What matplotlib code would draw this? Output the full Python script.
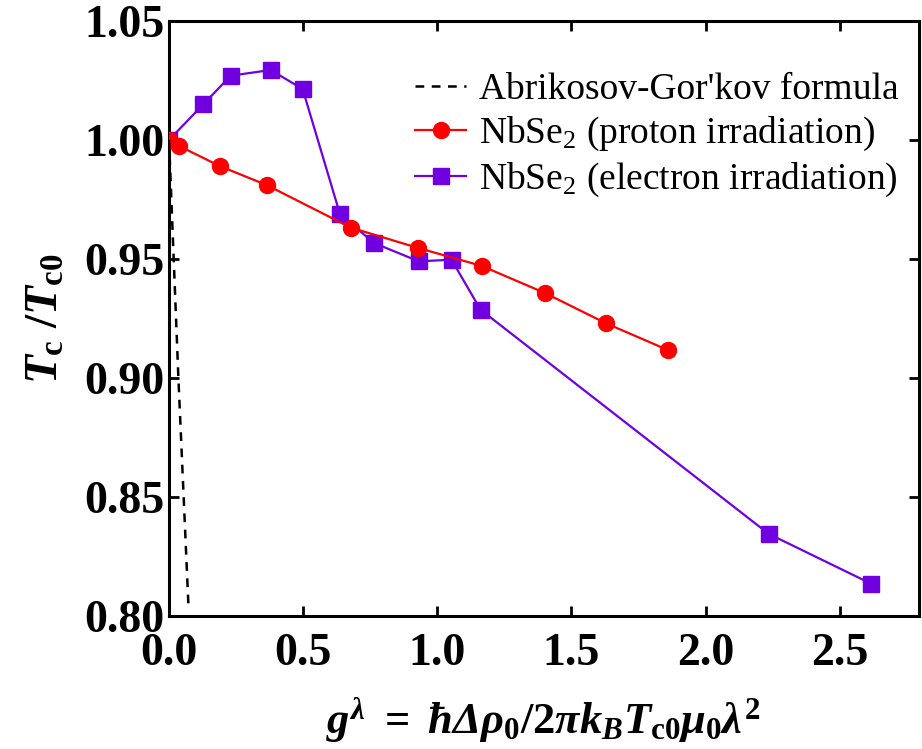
import matplotlib
matplotlib.use('Agg')
import matplotlib.pyplot as plt

plt.rcParams['font.family'] = ['Liberation Serif', 'DejaVu Serif']
plt.rcParams['mathtext.fontset'] = 'custom'
plt.rcParams['mathtext.rm'] = 'Liberation Serif:bold:italic'
plt.rcParams['mathtext.it'] = 'Liberation Serif:bold:italic'
plt.rcParams['mathtext.bf'] = 'Liberation Serif:bold'

# Abrikosov-Gor'kov curve (nearly straight over this range)
ag_x = [0.0, 0.035, 0.073]
ag_y = [1.0, 0.90, 0.803]

# NbSe2 proton irradiation
proton_x = [0.0, 0.037, 0.19, 0.365, 0.677, 0.929, 1.165, 1.401, 1.628, 1.858]
proton_y = [1.000, 0.9975, 0.989, 0.981, 0.9632, 0.9546, 0.9471, 0.9357, 0.923, 0.9118]

# NbSe2 electron irradiation
electron_x = [0.0, 0.128, 0.230, 0.379, 0.498, 0.637, 0.764, 0.931, 1.053, 1.161, 2.235, 2.616]
electron_y = [1.000, 1.015, 1.027, 1.0294, 1.0214, 0.9689, 0.9567, 0.9490, 0.9497, 0.9287, 0.8345, 0.8136]

x_ticks = [0.0, 0.5, 1.0, 1.5, 2.0, 2.5]
y_ticks = [0.80, 0.85, 0.90, 0.95, 1.00, 1.05]

purple = '#7000E0'

fig = plt.figure(figsize=(9.22, 7.49), dpi=100)
ax = fig.add_axes([0.1833, 0.1776, 0.8134, 0.7944])

ax.plot(ag_x, ag_y, color='black', linestyle='--', linewidth=1.8, dashes=(3.5, 3),
        label="Abrikosov-Gor'kov formula", zorder=4)
ax.plot(proton_x, proton_y, color='red', linewidth=1.6, marker='o', markersize=11.5,
        label=r'NbSe$_\mathregular{2}$ (proton irradiation)', zorder=3)
ax.plot(electron_x, electron_y, color=purple, linewidth=1.6, marker='s', markersize=11,
        label=r'NbSe$_\mathregular{2}$ (electron irradiation)', zorder=2)

ax.set_xlim(0, 2.795)
ax.set_ylim(0.80, 1.05)
ax.set_xticks(x_ticks)
ax.set_yticks(y_ticks)
ax.set_xticklabels([f'{v:.1f}' for v in x_ticks])
ax.set_yticklabels([f'{v:.2f}' for v in y_ticks])

ax.tick_params(direction='in', length=7, width=2, top=True, right=True,
               labelsize=33)
ax.tick_params(axis='x', pad=12)
ax.tick_params(axis='y', pad=3)
for lab in ax.get_xticklabels() + ax.get_yticklabels():
    lab.set_fontweight('bold')
for sp in ax.spines.values():
    sp.set_linewidth(2.2)

ax.set_xlabel(r'$g^{\lambda}\ \mathbf{=}\ \hbar\Delta\rho_\mathbf{0}\mathbf{/2}\pi k_B T_\mathbf{c0}\mu_\mathbf{0}\lambda^\mathbf{2}$',
              fontsize=32, labelpad=15)
ax.set_ylabel(r'$T_\mathbf{c}\ \mathbf{/}T_\mathbf{c0}$', fontsize=34, labelpad=12)

ax.legend(loc='upper right', frameon=False, fontsize=27, handlelength=1.35,
          handletextpad=0.35, labelspacing=0.2, borderaxespad=0.3,
          bbox_to_anchor=(1.008, 0.957))

fig.savefig('out.png', dpi=100)
